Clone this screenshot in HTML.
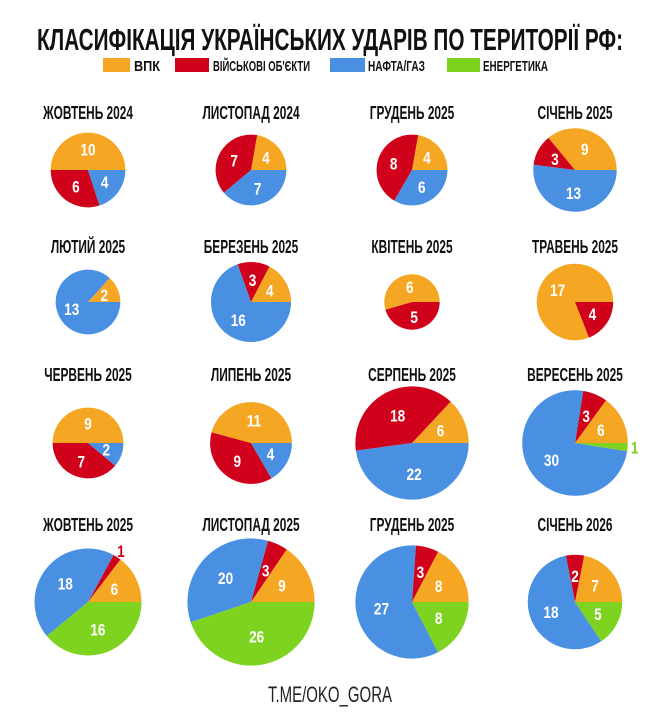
<!DOCTYPE html>
<html><head><meta charset="utf-8">
<style>
body{margin:0;background:#fff;width:660px;height:722px;overflow:hidden;font-family:"Liberation Sans Narrow","Liberation Sans",sans-serif;}
svg{display:block}
</style></head>
<body>
<svg id="chart" width="660" height="722" viewBox="0 0 660 722" xmlns="http://www.w3.org/2000/svg">
<text x="330" y="50" text-anchor="middle" font-family="Liberation Sans Narrow, Liberation Sans, sans-serif" font-weight="bold" font-size="31" fill="#111" textLength="586" lengthAdjust="spacingAndGlyphs">КЛАСИФІКАЦІЯ УКРАЇНСЬКИХ УДАРІВ ПО ТЕРИТОРІЇ РФ:</text>
<g font-family="Liberation Sans Narrow, Liberation Sans, sans-serif" font-weight="bold" font-size="15" fill="#111">
<g><rect x="103" y="58" width="27" height="14" fill="#f5a623"/><text x="134" y="71" textLength="26" lengthAdjust="spacingAndGlyphs">ВПК</text></g>
<g><rect x="175" y="58" width="34" height="14" fill="#d0021b"/><text x="213" y="71" textLength="97" lengthAdjust="spacingAndGlyphs">ВІЙСЬКОВІ ОБ'ЄКТИ</text></g>
<g><rect x="330" y="58" width="35" height="14" fill="#4a90e2"/><text x="368" y="71" textLength="57" lengthAdjust="spacingAndGlyphs">НАФТА/ГАЗ</text></g>
<g><rect x="447" y="58" width="33" height="14" fill="#7ed321"/><text x="483" y="71" textLength="65" lengthAdjust="spacingAndGlyphs">ЕНЕРГЕТИКА</text></g>
</g>
<g id="pies"></g>
<text x="330" y="702" text-anchor="middle" font-family="Liberation Sans Narrow, Liberation Sans, sans-serif" font-size="22" fill="#222" textLength="124" lengthAdjust="spacingAndGlyphs">T.ME/OKO_GORA</text>
</svg>
<script>
const months = ["ЖОВТЕНЬ 2024","ЛИСТОПАД 2024","ГРУДЕНЬ 2025","СІЧЕНЬ 2025","ЛЮТИЙ 2025","БЕРЕЗЕНЬ 2025","КВІТЕНЬ 2025","ТРАВЕНЬ 2025","ЧЕРВЕНЬ 2025","ЛИПЕНЬ 2025","СЕРПЕНЬ 2025","ВЕРЕСЕНЬ 2025","ЖОВТЕНЬ 2025","ЛИСТОПАД 2025","ГРУДЕНЬ 2025","СІЧЕНЬ 2026"];
const vpk    = [10,4,4,9, 2,4,6,17, 9,11,6,6, 6,9,8,7];
const mil    = [6,7,8,3, 0,3,5,4, 7,9,18,3, 1,3,3,2];
const oil    = [4,7,6,13, 13,16,0,0, 2,4,22,30, 18,20,27,18];
const energy = [0,0,0,0, 0,0,0,0, 0,0,0,1, 16,26,8,5];
const colors = ["#f5a623","#d0021b","#4a90e2","#7ed321"];
const colX = [88,251,412,575];
const rowY = [170,302,443,602];
const titleY = [119,253,381,531];
const K = 8.35;
const NS = "http://www.w3.org/2000/svg";
const g = document.getElementById("pies");
function pt(cx,cy,r,a){return [cx+r*Math.cos(a), cy-r*Math.sin(a)];}
months.forEach((m,i)=>{
  const cx = colX[i%4], cy = rowY[Math.floor(i/4)];
  const vals=[vpk[i],mil[i],oil[i],energy[i]];
  const total=vals.reduce((a,b)=>a+b,0);
  const r=K*Math.sqrt(total);
  const grp=document.createElementNS(NS,"g");
  
  
  g.appendChild(grp);
  let a0=0;
  vals.forEach((v,k)=>{
    if(!v) return;
    const a1=a0+v/total*2*Math.PI;
    const p0=pt(cx,cy,r,a0), p1=pt(cx,cy,r,a1);
    let el;
    if(v===total){el=document.createElementNS(NS,"circle");el.setAttribute("cx",cx);el.setAttribute("cy",cy);el.setAttribute("r",r);}
    else{el=document.createElementNS(NS,"path");
      el.setAttribute("d",`M${cx},${cy}L${p0[0]},${p0[1]}A${r},${r} 0 ${(a1-a0)>Math.PI?1:0} 0 ${p1[0]},${p1[1]}Z`);}
    el.setAttribute("fill",colors[k]);
    
    
    grp.appendChild(el);
    const mid=(a0+a1)/2, small=v/total<0.045;
    const lp=pt(cx,cy,small?r+7:r*0.55,mid);
    const t=document.createElementNS(NS,"text");
    t.setAttribute("x",lp[0]);t.setAttribute("y",lp[1]+6);
    t.setAttribute("text-anchor","middle");
    t.setAttribute("font-size","17");t.setAttribute("font-weight","bold");
    t.setAttribute("fill",small?colors[k]:"#fff");
    t.textContent=v;
    
    
    grp.appendChild(t);
    const w=t.getComputedTextLength();
    t.setAttribute("textLength",w*0.8);
    t.setAttribute("lengthAdjust","spacingAndGlyphs");
    a0=a1;
  });
  const tt=document.createElementNS(NS,"text");
  tt.setAttribute("x",cx);tt.setAttribute("y",titleY[Math.floor(i/4)]);
  tt.setAttribute("text-anchor","middle");tt.setAttribute("font-size","18");tt.setAttribute("font-weight","bold");tt.setAttribute("fill","#111");
  tt.textContent=m;
  
  
  grp.appendChild(tt);
  const tw=tt.getComputedTextLength();
  tt.setAttribute("textLength",tw*0.66);
  tt.setAttribute("lengthAdjust","spacingAndGlyphs");
});
</script>
</body></html>
